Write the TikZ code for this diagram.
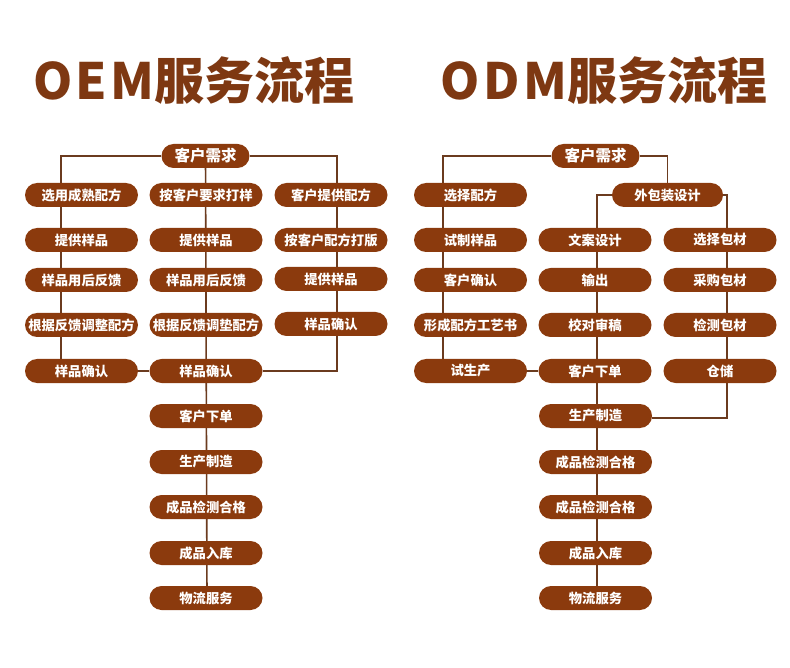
\documentclass[tikz,border=0pt]{standalone}
\usepackage{fontspec}
\newfontfamily\cjk{Noto Sans CJK SC}
\usetikzlibrary{backgrounds}
\definecolor{pillfill}{HTML}{8B3A0D}
\definecolor{linecol}{HTML}{6B3B1F}
\definecolor{titlecol}{HTML}{7E3812}
\tikzset{
  pill/.style={draw=none, fill=pillfill, text=white, rounded corners=12pt,
    minimum width=113pt, minimum height=24pt, inner sep=0pt,
    font=\cjk\bfseries\fontsize{13.3}{13.3}\selectfont},
  pillsmall/.style={pill, minimum width=88pt, font=\cjk\bfseries\fontsize{15.5}{15.5}\selectfont},
  conn/.style={draw=linecol, line width=1.6pt},
  titletext/.style={text=titlecol, inner sep=0pt, font=\cjk\bfseries\fontsize{50}{50}\selectfont}
}
\begin{document}
\begin{tikzpicture}[x=1pt,y=-1pt]
\useasboundingbox (0,0) rectangle (790,668);
% titles
\node[titletext] (t1) at (194,80) {{\addfontfeature{LetterSpace=7}OEM}服务流程};
\node[titletext] (t2) at (604,80) {{\addfontfeature{LetterSpace=7}ODM}服务流程};
% OEM nodes
\node[pillsmall] (A0) at (205.5,156) {客户需求};
\node[pill] (A1) at (81.5,195) {选用成熟配方};
\node[pill] (A2) at (206,195) {按客户要求打样};
\node[pill] (A3) at (331,195) {客户提供配方};
\node[pill] (B1) at (81.5,240) {提供样品};
\node[pill] (C1) at (81.5,280) {样品用后反馈};
\node[pill] (D1) at (81.5,325) {根据反馈调整配方};
\node[pill] (E1) at (81.5,371) {样品确认};
\node[pill] (B2) at (206,240) {提供样品};
\node[pill] (C2) at (206,280) {样品用后反馈};
\node[pill] (D2) at (206,325) {根据反馈调垫配方};
\node[pill] (E2) at (206,371) {样品确认};
\node[pill] (B3) at (331,240) {按客户配方打版};
\node[pill] (C3) at (331,279) {提供样品};
\node[pill] (D3) at (331,324) {样品确认};
\node[pill] (F) at (206,416) {客户下单};
\node[pill] (G) at (206,462) {生产制造};
\node[pill] (H) at (206,507) {成品检测合格};
\node[pill] (I) at (206,553) {成品入库};
\node[pill] (J) at (206,598) {物流服务};
% ODM nodes
\node[pillsmall] (N0) at (595.5,156) {客户需求};
\node[pill] (L1) at (470.5,195) {选择配方};
\node[pill] (L2) at (470.5,240) {试制样品};
\node[pill] (L3) at (470.5,280) {客户确认};
\node[pill] (L4) at (470.5,325) {形成配方工艺书};
\node[pill] (L5) at (470.5,371) {试生产};
\node[pill, minimum width=111pt] (P) at (667.5,195) {外包装设计};
\node[pill] (M1) at (595,240) {文案设计};
\node[pill] (M2) at (595,280) {输出};
\node[pill] (M3) at (595,325) {校对审稿};
\node[pill] (M4) at (595,371) {客户下单};
\node[pill] (R1) at (720,240) {选择包材};
\node[pill] (R2) at (720,280) {采购包材};
\node[pill] (R3) at (720,325) {检测包材};
\node[pill] (R4) at (720,371) {仓储};
\node[pill] (Q1) at (595.5,416) {生产制造};
\node[pill] (Q2) at (595.5,462) {成品检测合格};
\node[pill] (Q3) at (595.5,507) {成品检测合格};
\node[pill] (Q4) at (595.5,553) {成品入库};
\node[pill] (Q5) at (595.5,598) {物流服务};
% connectors
\begin{scope}[on background layer]
\draw[conn] (A0.west) -| ([xshift=-20.5pt]E1.center);
\draw[conn] (A0.center) -- ([xshift=1pt]J.center);
\draw[conn] (A0.east) -| ([xshift=6pt]D3.center) |- (E2.east);
\draw[conn] (E1.east) -- (E2.west);
\draw[conn] (N0.west) -| ([xshift=-27.5pt]L5.center);
\draw[conn] (N0.east) -| (P.north);
\draw[conn] (P.west) -| ([xshift=1.5pt]Q5.center);
\draw[conn] (P.east) -| ([xshift=7pt]R4.center) |- ([yshift=-2pt]Q1.east);
\draw[conn] (L5.east) -- (M4.west);
\end{scope}
\end{tikzpicture}
\end{document}
